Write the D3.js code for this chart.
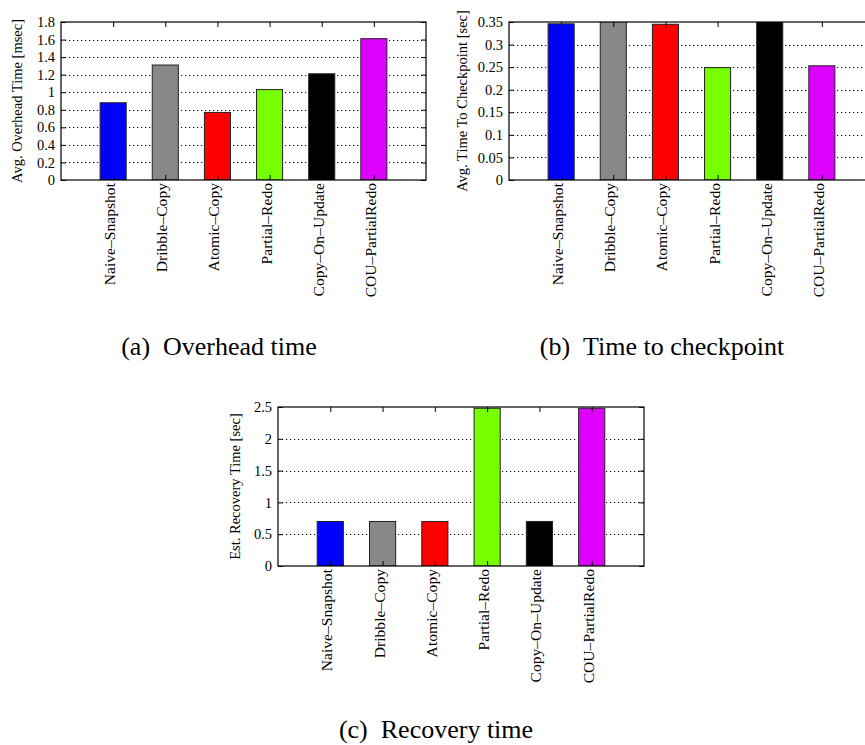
<!DOCTYPE html>
<html>
<head>
<meta charset="utf-8">
<script src="https://cdn.jsdelivr.net/npm/d3@7"></script>
<style>
  body { margin: 0; background: #fff; }
  svg text { font-family: "Liberation Serif", "DejaVu Serif", serif; }
</style>
</head>
<body>
<div id="chart"></div>
<script>
// categories and series values
const categories = ["Naive\u2013Snapshot", "Dribble\u2013Copy", "Atomic\u2013Copy", "Partial\u2013Redo", "Copy\u2013On\u2013Update", "COU\u2013PartialRedo"];
const barColors = ["#0000ff", "#888888", "#ff0000", "#77ff00", "#000000", "#dd00ff"];

const overheadMs = [0.88, 1.31, 0.77, 1.03, 1.21, 1.61];
const checkpointSec = [0.346, 0.36, 0.345, 0.249, 0.36, 0.253]; // gray and black run past the top
const recoverySec = [0.7, 0.7, 0.7, 2.48, 0.7, 2.48];

const overheadTicks = [0, 0.2, 0.4, 0.6, 0.8, 1, 1.2, 1.4, 1.6, 1.8];
const checkpointTicks = [0, 0.05, 0.1, 0.15, 0.2, 0.25, 0.3, 0.35];
const recoveryTicks = [0, 0.5, 1, 1.5, 2, 2.5];

const W = 865, H = 745;
const serif = "'Liberation Serif', 'DejaVu Serif', serif";

const panels = [
  {id: "a", values: overheadMs, ticks: overheadTicks, title: "Avg. Overhead Time [msec]",
   caption: "(a)\u2002Overhead time", left: 61, top: 22, width: 365, height: 158, titleX: 17, capX: 219, capY: 355},
  {id: "b", values: checkpointSec, ticks: checkpointTicks, title: "Avg. Time To Checkpoint [sec]",
   caption: "(b)\u2002Time to checkpoint", left: 509, top: 22, width: 365, height: 158, titleX: 462, capX: 662, capY: 355},
  {id: "c", values: recoverySec, ticks: recoveryTicks, title: "Est. Recovery Time [sec]",
   caption: "(c)\u2002Recovery time", left: 278, top: 407, width: 366, height: 159, titleX: 235, capX: 436, capY: 738}
];

const svg = d3.select("#chart").append("svg")
  .attr("width", W)
  .attr("height", H);

panels.forEach(function (p) {
  const right = p.left + p.width, bottom = p.top + p.height;
  const ymax = d3.max(p.ticks);

  const x = d3.scalePoint()
    .domain(categories)
    .range([p.left, right])
    .padding(1);
  const y = d3.scaleLinear()
    .domain([0, ymax])
    .range([bottom, p.top]);
  const barW = x.step() * 0.5;

  const g = svg.append("g").attr("id", "panel-" + p.id);

  g.append("clipPath").attr("id", "clip-" + p.id)
    .append("rect")
    .attr("x", p.left).attr("y", p.top)
    .attr("width", p.width).attr("height", p.height);

  // dotted grid
  g.append("g")
    .selectAll("line")
    .data(p.ticks.filter(t => t > 0 && t < ymax))
    .enter().append("line")
    .attr("x1", p.left).attr("x2", right)
    .attr("y1", d => Math.round(y(d)) + 0.5).attr("y2", d => Math.round(y(d)) + 0.5)
    .attr("stroke", "#000")
    .attr("stroke-width", 1)
    .attr("stroke-dasharray", "1.2,2.8");

  // bars
  g.append("g")
    .attr("clip-path", "url(#clip-" + p.id + ")")
    .selectAll("rect")
    .data(p.values)
    .enter().append("rect")
    .attr("x", (d, i) => x(categories[i]) - barW / 2)
    .attr("y", d => y(d))
    .attr("width", barW)
    .attr("height", d => bottom - y(d))
    .attr("fill", (d, i) => barColors[i])
    .attr("stroke", "#222")
    .attr("stroke-width", 1);

  // axes, ticks point inward
  const yl = g.append("g")
    .attr("transform", "translate(" + p.left + ",0)")
    .call(d3.axisLeft(y).tickValues(p.ticks).tickSize(-5).tickPadding(6).tickFormat(d3.format("~g")));
  g.append("g")
    .attr("transform", "translate(" + right + ",0)")
    .call(d3.axisRight(y).tickValues(p.ticks).tickSize(-5).tickFormat(""));
  g.append("g")
    .attr("transform", "translate(0," + p.top + ")")
    .call(d3.axisTop(x).tickSize(-5).tickFormat(""));
  const xb = g.append("g")
    .attr("transform", "translate(0," + bottom + ")")
    .call(d3.axisBottom(x).tickSize(-5).tickPadding(6));

  g.selectAll(".domain").remove();
  g.selectAll(".tick line").attr("stroke", "#000");
  yl.selectAll("text").style("font-size", "14.5px").attr("fill", "#000");
  xb.selectAll("text")
    .attr("transform", "rotate(-90)")
    .attr("x", -3)
    .attr("y", 0)
    .attr("dy", "0.1em")
    .style("text-anchor", "end")
    .style("font-size", "15.6px")
    .attr("fill", "#000");
  g.selectAll("g").attr("font-family", serif);
  g.selectAll(".tick text").style("font-family", serif);

  // frame
  g.append("rect")
    .attr("x", p.left).attr("y", p.top)
    .attr("width", p.width).attr("height", p.height)
    .attr("fill", "none")
    .attr("stroke", "#000")
    .attr("stroke-width", 1.2);

  // y title
  g.append("text")
    .attr("transform", "translate(" + p.titleX + "," + (p.top + p.height / 2) + ") rotate(-90)")
    .attr("text-anchor", "middle")
    .attr("dy", "0.35em")
    .style("font-family", serif)
    .style("font-size", "14.5px")
    .text(p.title);

  // caption
  svg.append("text")
    .attr("x", p.capX)
    .attr("y", p.capY)
    .attr("text-anchor", "middle")
    .style("font-family", serif)
    .style("font-size", "26px")
    .text(p.caption);
});
</script>
</body>
</html>
